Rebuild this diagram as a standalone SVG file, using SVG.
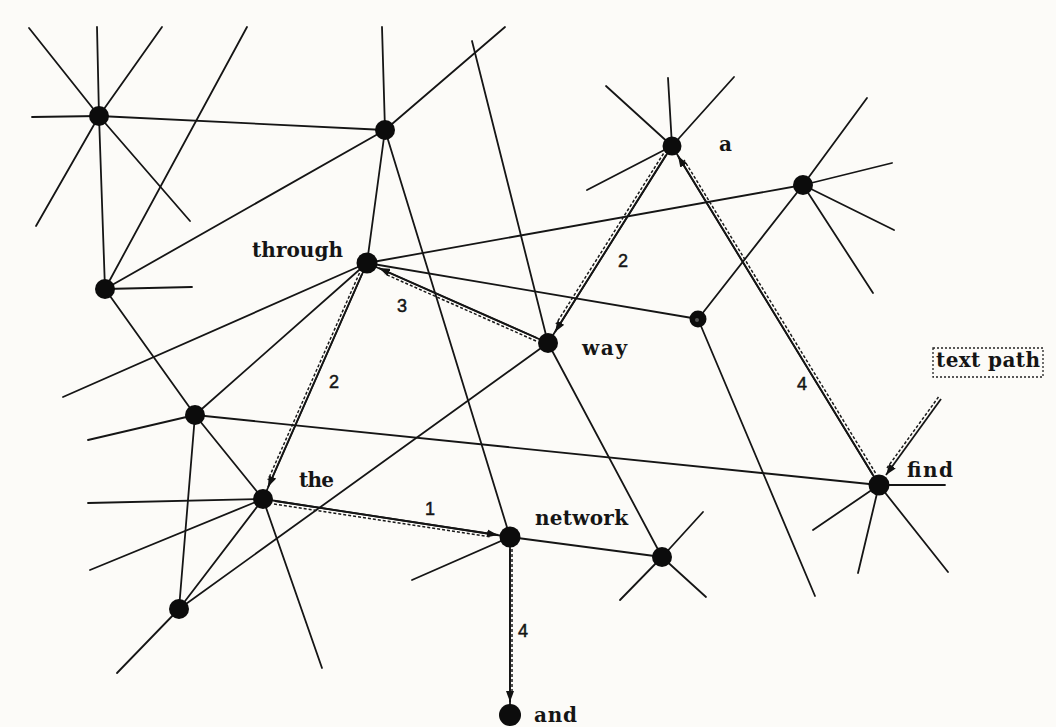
<svg xmlns="http://www.w3.org/2000/svg" width="1056" height="727" viewBox="0 0 1056 727">
<defs>
<marker id="ah" markerUnits="userSpaceOnUse" markerWidth="11" markerHeight="8" refX="11" refY="4" orient="auto">
<path d="M0,0 L11,4 L0,8 z" fill="#111"/>
</marker>
<style>
.e{stroke:#151515;stroke-width:1.8;fill:none;stroke-linecap:round}
.p{stroke:#151515;stroke-width:1.8;fill:none;marker-end:url(#ah)}
.d{stroke:#1a1a1a;stroke-width:1.5;fill:none;stroke-dasharray:3 2}
.n{fill:#0c0c0c}
.lbl{font-family:"DejaVu Serif","Liberation Serif",serif;font-weight:bold;font-size:20px;fill:#151515}
.num{font-family:"Liberation Sans",Arial,sans-serif;font-size:18px;fill:#151515;stroke:#151515;stroke-width:0.5}
</style>
</defs>
<rect width="1056" height="727" fill="#fcfbf8"/>
<g id="connectors">
<line class="e" x1="99" y1="116" x2="385" y2="130"/>
<line class="e" x1="99" y1="116" x2="105" y2="289"/>
<line class="e" x1="105" y1="289" x2="385" y2="130"/>
<line class="e" x1="105" y1="289" x2="195" y2="415"/>
<line class="e" x1="385" y1="130" x2="367" y2="263"/>
<line class="e" x1="385" y1="130" x2="510" y2="537"/>
<line class="e" x1="367" y1="263" x2="803" y2="185"/>
<line class="e" x1="367" y1="263" x2="698" y2="319"/>
<line class="e" x1="367" y1="263" x2="548" y2="343"/>
<line class="e" x1="367" y1="263" x2="263" y2="499"/>
<line class="e" x1="367" y1="263" x2="195" y2="415"/>
<line class="e" x1="803" y1="185" x2="698" y2="319"/>
<line class="e" x1="672" y1="146" x2="548" y2="343"/>
<line class="e" x1="672" y1="146" x2="879" y2="485"/>
<line class="e" x1="548" y1="343" x2="662" y2="557"/>
<line class="e" x1="548" y1="343" x2="179" y2="609"/>
<line class="e" x1="195" y1="415" x2="879" y2="485"/>
<line class="e" x1="195" y1="415" x2="263" y2="499"/>
<line class="e" x1="195" y1="415" x2="179" y2="609"/>
<line class="e" x1="263" y1="499" x2="179" y2="609"/>
<line class="e" x1="263" y1="499" x2="510" y2="537"/>
<line class="e" x1="510" y1="537" x2="662" y2="557"/>
<line class="e" x1="510" y1="537" x2="510" y2="715"/>
<line class="e" x1="99" y1="116" x2="29" y2="28"/>
<line class="e" x1="99" y1="116" x2="97" y2="27"/>
<line class="e" x1="99" y1="116" x2="162" y2="27"/>
<line class="e" x1="99" y1="116" x2="32" y2="117"/>
<line class="e" x1="99" y1="116" x2="36" y2="226"/>
<line class="e" x1="99" y1="116" x2="190" y2="221"/>
<line class="e" x1="247" y1="27" x2="105" y2="289"/>
<line class="e" x1="105" y1="289" x2="192" y2="287"/>
<line class="e" x1="385" y1="130" x2="382" y2="27"/>
<line class="e" x1="385" y1="130" x2="505" y2="27"/>
<line class="e" x1="472" y1="41" x2="548" y2="343"/>
<line class="e" x1="367" y1="263" x2="63" y2="397"/>
<line class="e" x1="195" y1="415" x2="88" y2="440"/>
<line class="e" x1="263" y1="499" x2="88" y2="503"/>
<line class="e" x1="263" y1="499" x2="90" y2="570"/>
<line class="e" x1="263" y1="499" x2="322" y2="668"/>
<line class="e" x1="179" y1="609" x2="117" y2="673"/>
<line class="e" x1="672" y1="146" x2="606" y2="86"/>
<line class="e" x1="672" y1="146" x2="668" y2="78"/>
<line class="e" x1="672" y1="146" x2="734" y2="77"/>
<line class="e" x1="672" y1="146" x2="587" y2="190"/>
<line class="e" x1="803" y1="185" x2="867" y2="98"/>
<line class="e" x1="803" y1="185" x2="892" y2="163"/>
<line class="e" x1="803" y1="185" x2="894" y2="230"/>
<line class="e" x1="803" y1="185" x2="873" y2="293"/>
<line class="e" x1="698" y1="319" x2="815" y2="596"/>
<line class="e" x1="662" y1="557" x2="703" y2="512"/>
<line class="e" x1="662" y1="557" x2="620" y2="600"/>
<line class="e" x1="662" y1="557" x2="706" y2="597"/>
<line class="e" x1="879" y1="485" x2="945" y2="485"/>
<line class="e" x1="879" y1="485" x2="813" y2="530"/>
<line class="e" x1="879" y1="485" x2="858" y2="573"/>
<line class="e" x1="879" y1="485" x2="948" y2="572"/>
<line class="e" x1="510" y1="537" x2="412" y2="580"/>
<g id="path-arrows">
<line class="p" x1="275" y1="501" x2="498" y2="535"/>
<line class="d" x1="274" y1="504" x2="491" y2="537"/>
<line class="p" x1="362" y1="274" x2="268" y2="487"/>
<line class="d" x1="359.5" y1="273" x2="268" y2="480"/>
<line class="p" x1="537" y1="338" x2="379" y2="268"/>
<line class="d" x1="536" y1="341" x2="385" y2="274"/>
<line class="p" x1="666" y1="155" x2="555" y2="332"/>
<line class="d" x1="663.5" y1="153.5" x2="556" y2="324"/>
<line class="p" x1="873" y1="475" x2="678" y2="156"/>
<line class="d" x1="875.5" y1="473" x2="684" y2="160"/>
<line class="p" x1="510" y1="549" x2="510" y2="702"/>
<line class="d" x1="512" y1="549" x2="512" y2="694"/>
<line class="p" x1="941" y1="399" x2="886" y2="475"/>
<line class="d" x1="938.5" y1="397" x2="887" y2="468"/>
</g>
</g>
<g id="node-n1"><circle class="n" cx="99" cy="116" r="10"/></g>
<g id="node-n2"><circle class="n" cx="385" cy="130" r="10"/></g>
<g id="node-a"><circle class="n" cx="672" cy="146" r="9.5"/><text class="lbl" x="719" y="151">a</text></g>
<g id="node-n4"><circle class="n" cx="803" cy="185" r="10"/></g>
<g id="node-n5"><circle class="n" cx="105" cy="289" r="10"/></g>
<g id="node-through"><circle class="n" cx="367" cy="263" r="10.5"/><text class="lbl" x="252" y="257" textLength="91">through</text></g>
<g id="node-n7"><circle class="n" cx="698" cy="319" r="8.5"/><circle cx="697" cy="320" r="2" fill="#555"/></g>
<g id="node-way"><circle class="n" cx="548" cy="343" r="10"/><text class="lbl" x="582" y="355" textLength="45">way</text></g>
<g id="node-n9"><circle class="n" cx="195" cy="415" r="10"/></g>
<g id="node-the"><circle class="n" cx="263" cy="499" r="10"/><text class="lbl" x="299" y="487" textLength="35">the</text></g>
<g id="node-network"><circle class="n" cx="510" cy="537" r="10.5"/><text class="lbl" x="535" y="525" textLength="93">network</text></g>
<g id="node-n12"><circle class="n" cx="662" cy="557" r="10"/></g>
<g id="node-find"><circle class="n" cx="879" cy="485" r="10.5"/><text class="lbl" x="907" y="477" textLength="46">find</text></g>
<g id="node-n14"><circle class="n" cx="179" cy="609" r="10"/></g>
<g id="node-and"><circle class="n" cx="510" cy="715" r="11"/><text class="lbl" x="534" y="722" textLength="43">and</text></g>
<g id="node-textpath">
<rect x="933" y="348" width="110" height="29" fill="none" stroke="#222" stroke-width="1.3" stroke-dasharray="2 2"/>
<text class="lbl" x="936" y="367" font-size="19" textLength="104">text path</text>
</g>
<g id="labels">
<text class="num" x="430" y="515" text-anchor="middle">1</text>
<text class="num" x="334" y="388" text-anchor="middle">2</text>
<text class="num" x="402" y="312" text-anchor="middle">3</text>
<text class="num" x="623" y="267" text-anchor="middle">2</text>
<text class="num" x="802" y="390" text-anchor="middle">4</text>
<text class="num" x="523" y="637" text-anchor="middle">4</text>
</g>
</svg>
